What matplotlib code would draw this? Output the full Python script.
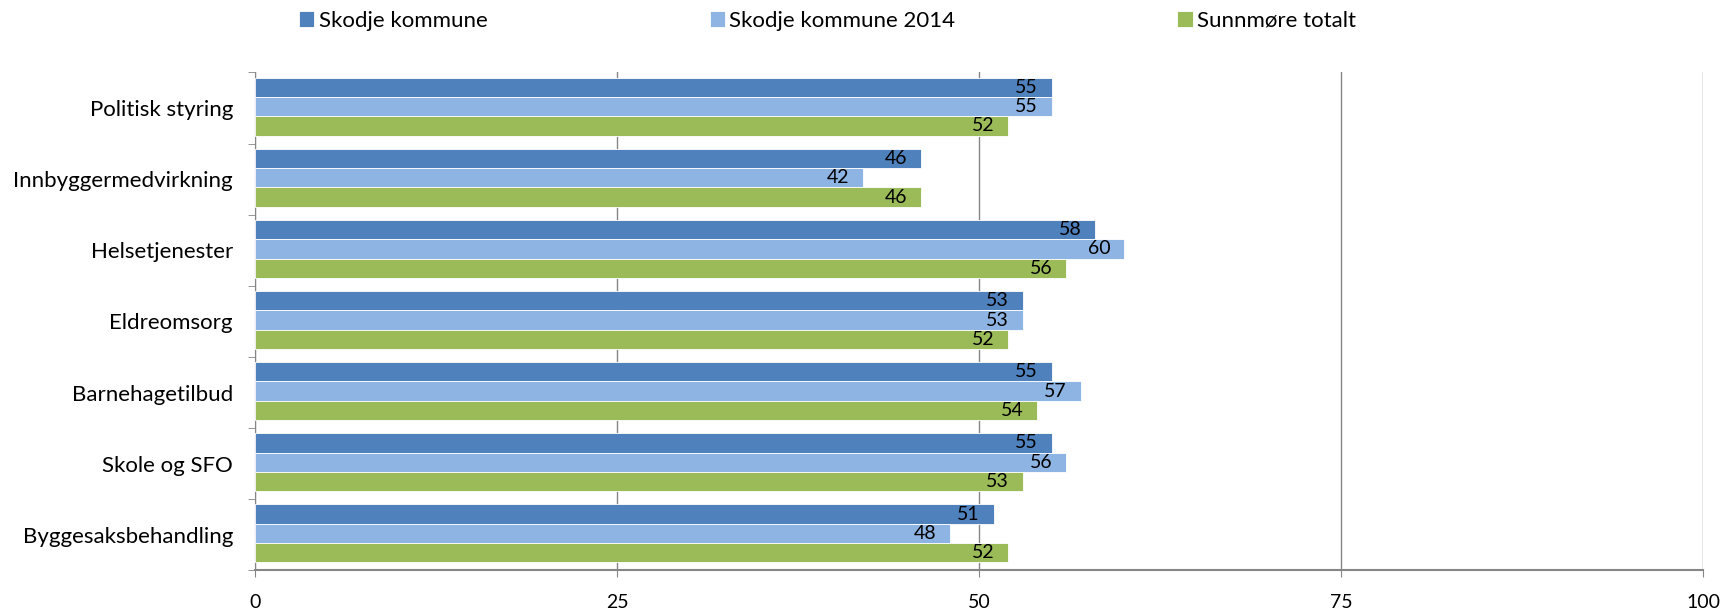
import matplotlib
matplotlib.use("Agg")
import matplotlib.pyplot as plt
import numpy as np

categories = ["Politisk styring", "Innbyggermedvirkning", "Helsetjenester", "Eldreomsorg",
              "Barnehagetilbud", "Skole og SFO", "Byggesaksbehandling"]
series_names = ["Skodje kommune", "Skodje kommune 2014", "Sunnmøre totalt"]
skodje = [55, 46, 58, 53, 55, 55, 51]
skodje_2014 = [55, 42, 60, 53, 57, 56, 48]
sunnmore = [52, 46, 56, 52, 54, 53, 52]
x_ticks = [0, 25, 50, 75, 100]

colors = ["#4F81BD", "#8DB4E2", "#9BBB59"]

plt.rcParams['font.family'] = ['Lato', 'DejaVu Sans']

fig = plt.figure(figsize=(17.24, 6.14), dpi=100)
ax = fig.add_axes([0.148, 0.071, 0.840, 0.811])

n = len(categories)
y = np.arange(n)
h = 0.272
data = [skodje, skodje_2014, sunnmore]
for i, (vals, c, name) in enumerate(zip(data, colors, series_names)):
    pos = y + (i - 1) * h - 0.02
    bars = ax.barh(pos, vals, height=h, color=c, edgecolor="white", linewidth=0.6, label=name, zorder=3)
    for b, v in zip(bars, vals):
        ax.annotate(f"{v}", xy=(b.get_width(), b.get_y() + b.get_height() / 2),
                    xytext=(-10, 0), textcoords="offset points", ha="right", va="center",
                    fontsize=14, color="black", zorder=4)

ax.set_xlim(0, 100)
ax.set_ylim(n - 0.5, -0.5)
ax.set_xticks(x_ticks)
ax.set_xticklabels([str(t) for t in x_ticks], fontsize=14)
ax.set_yticks(y)
ax.set_yticklabels(categories, fontsize=16)
ax.set_yticks(np.arange(n + 1) - 0.5, minor=True)
ax.tick_params(axis="y", which="major", length=0, pad=16)
ax.tick_params(axis="y", which="minor", length=5, color="#868686")
ax.tick_params(axis="x", length=5, color="#868686", pad=12)
ax.grid(axis="x", color="#868686", linewidth=1, zorder=0)
for s in ["top", "right"]:
    ax.spines[s].set_visible(False)
ax.spines["left"].set_color("#868686")
ax.spines["bottom"].set_color("#868686")
ax.spines["bottom"].set_linewidth(1.5)

leg = fig.legend(loc="center", bbox_to_anchor=(0.480, 0.966), ncol=3, frameon=False,
                 fontsize=16, handlelength=0.68, handleheight=0.68, handletextpad=0.2,
                 columnspacing=10.0)

fig.savefig("out.png", dpi=100)
